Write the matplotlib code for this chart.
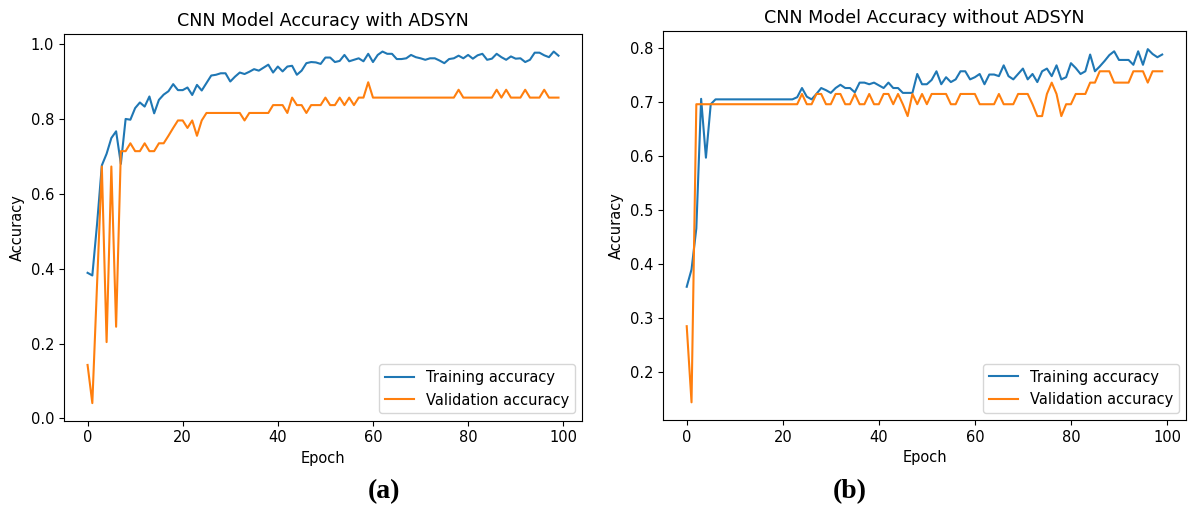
import matplotlib
matplotlib.use("Agg")
import matplotlib.pyplot as plt
import numpy as np

# accuracy per epoch
train_acc_adasyn = [
    0.389, 0.382, 0.520, 0.676, 0.707, 0.749, 0.767, 0.680, 0.800, 0.798,
    0.829, 0.844, 0.833, 0.860, 0.815, 0.851, 0.865, 0.874, 0.893, 0.877,
    0.877, 0.884, 0.864, 0.891, 0.876, 0.896, 0.916, 0.918, 0.922, 0.922,
    0.900, 0.913, 0.924, 0.920, 0.926, 0.933, 0.929, 0.937, 0.945, 0.924,
    0.940, 0.927, 0.940, 0.942, 0.918, 0.929, 0.949, 0.952, 0.951, 0.947,
    0.964, 0.964, 0.952, 0.955, 0.971, 0.954, 0.958, 0.962, 0.954, 0.974,
    0.952, 0.971, 0.980, 0.974, 0.974, 0.960, 0.960, 0.962, 0.971, 0.965,
    0.962, 0.958, 0.962, 0.962, 0.956, 0.949, 0.960, 0.962, 0.969, 0.962,
    0.971, 0.961, 0.970, 0.974, 0.958, 0.961, 0.974, 0.965, 0.958, 0.967,
    0.961, 0.962, 0.952, 0.958, 0.977, 0.977, 0.970, 0.965, 0.980, 0.969,
]
val_acc_adasyn = [
    0.143, 0.041, 0.360, 0.673, 0.204, 0.673, 0.245, 0.714, 0.714, 0.735,
    0.714, 0.714, 0.735, 0.714, 0.714, 0.735, 0.735, 0.755, 0.776, 0.796,
    0.796, 0.776, 0.796, 0.755, 0.796, 0.816, 0.816, 0.816, 0.816, 0.816,
    0.816, 0.816, 0.816, 0.796, 0.816, 0.816, 0.816, 0.816, 0.816, 0.837,
    0.837, 0.837, 0.816, 0.857, 0.837, 0.837, 0.816, 0.837, 0.837, 0.837,
    0.857, 0.837, 0.837, 0.857, 0.837, 0.857, 0.837, 0.857, 0.857, 0.898,
    0.857, 0.857, 0.857, 0.857, 0.857, 0.857, 0.857, 0.857, 0.857, 0.857,
    0.857, 0.857, 0.857, 0.857, 0.857, 0.857, 0.857, 0.857, 0.878, 0.857,
    0.857, 0.857, 0.857, 0.857, 0.857, 0.857, 0.878, 0.857, 0.878, 0.857,
    0.857, 0.857, 0.878, 0.857, 0.857, 0.857, 0.878, 0.857, 0.857, 0.857,
]
train_acc_plain = [
    0.358, 0.390, 0.466, 0.706, 0.597, 0.696, 0.705, 0.705, 0.705, 0.705,
    0.705, 0.705, 0.705, 0.705, 0.705, 0.705, 0.705, 0.705, 0.705, 0.705,
    0.705, 0.705, 0.705, 0.709, 0.726, 0.710, 0.705, 0.715, 0.726, 0.722,
    0.717, 0.726, 0.732, 0.726, 0.726, 0.718, 0.736, 0.736, 0.733, 0.736,
    0.731, 0.726, 0.736, 0.726, 0.726, 0.717, 0.717, 0.717, 0.752, 0.733,
    0.733, 0.741, 0.757, 0.733, 0.746, 0.737, 0.742, 0.757, 0.757, 0.742,
    0.746, 0.752, 0.733, 0.751, 0.751, 0.748, 0.768, 0.748, 0.742, 0.752,
    0.762, 0.742, 0.752, 0.737, 0.757, 0.762, 0.748, 0.768, 0.742, 0.746,
    0.772, 0.763, 0.752, 0.757, 0.788, 0.757, 0.766, 0.776, 0.787, 0.794,
    0.778, 0.778, 0.778, 0.769, 0.794, 0.769, 0.798, 0.789, 0.783, 0.788,
]
val_acc_plain = [
    0.285, 0.144, 0.696, 0.696, 0.696, 0.696, 0.696, 0.696, 0.696, 0.696,
    0.696, 0.696, 0.696, 0.696, 0.696, 0.696, 0.696, 0.696, 0.696, 0.696,
    0.696, 0.696, 0.696, 0.696, 0.715, 0.696, 0.696, 0.715, 0.715, 0.696,
    0.696, 0.715, 0.715, 0.696, 0.696, 0.715, 0.696, 0.696, 0.715, 0.696,
    0.696, 0.715, 0.715, 0.696, 0.715, 0.696, 0.674, 0.715, 0.696, 0.715,
    0.696, 0.715, 0.715, 0.715, 0.715, 0.696, 0.696, 0.715, 0.715, 0.715,
    0.715, 0.696, 0.696, 0.696, 0.696, 0.715, 0.696, 0.696, 0.696, 0.715,
    0.715, 0.715, 0.696, 0.674, 0.674, 0.715, 0.736, 0.715, 0.674, 0.696,
    0.696, 0.715, 0.715, 0.715, 0.736, 0.736, 0.757, 0.757, 0.757, 0.736,
    0.736, 0.736, 0.736, 0.757, 0.757, 0.757, 0.736, 0.757, 0.757, 0.757,
]
epochs = np.arange(len(train_acc_adasyn))

titles = ["CNN Model Accuracy with ADSYN", "CNN Model Accuracy without ADSYN"]
panel_labels = ["(a)", "(b)"]

# source panels were rendered a touch larger than default
plt.rcParams['font.size'] = 10.5

fig = plt.figure(figsize=(11.9, 5.11), dpi=100)
ax1 = fig.add_axes([0.0538, 0.1767, 0.4353, 0.7568])
ax2 = fig.add_axes([0.5571, 0.1781, 0.4395, 0.7603])

runs = [(ax1, train_acc_adasyn, val_acc_adasyn), (ax2, train_acc_plain, val_acc_plain)]
for (ax, tr, va), title in zip(runs, titles):
    ax.plot(epochs, tr, label='Training accuracy')
    ax.plot(epochs, va, label='Validation accuracy')
    ax.set_title(title)
    ax.set_xlabel('Epoch')
    ax.set_ylabel('Accuracy')
    ax.legend(loc='lower right')

# subfigure captions under each panel
fig.text(0.323, 0.025, panel_labels[0], ha='center', fontsize=20,
         fontweight='bold', family='Liberation Serif')
fig.text(0.714, 0.025, panel_labels[1], ha='center', fontsize=20,
         fontweight='bold', family='Liberation Serif')

plt.savefig('out.png', dpi=100)
